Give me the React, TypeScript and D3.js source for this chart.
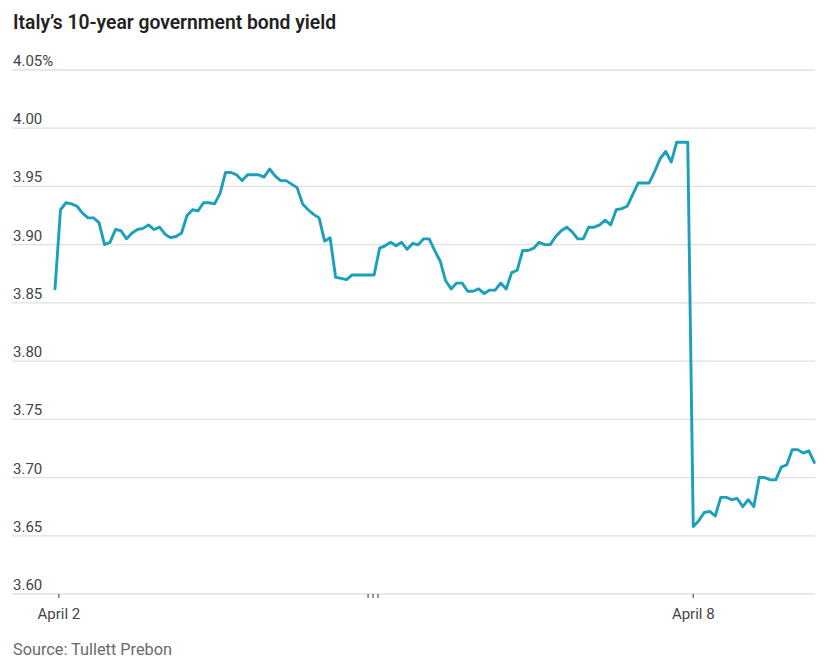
import React from "react";
import * as d3 from "d3";

const TITLE = "Italy\u2019s 10-year government bond yield";
const SOURCE = "Source: Tullett Prebon";

// yields (%) in sequence of observations
const yields: number[] = [
  3.862, 3.930, 3.936, 3.935, 3.933, 3.927, 3.923, 3.923, 3.919, 3.900,
  3.902, 3.913, 3.912, 3.905, 3.910, 3.913, 3.914, 3.917, 3.913, 3.915,
  3.909, 3.906, 3.907, 3.910, 3.925, 3.930, 3.929, 3.936, 3.936, 3.935,
  3.944, 3.962, 3.962, 3.960, 3.955, 3.960, 3.960, 3.960, 3.958, 3.965,
  3.959, 3.955, 3.955, 3.952, 3.949, 3.935, 3.930, 3.926, 3.923, 3.903,
  3.906, 3.872, 3.871, 3.870, 3.874, 3.874, 3.874, 3.874, 3.874, 3.897,
  3.899, 3.902, 3.899, 3.902, 3.896, 3.901, 3.900, 3.905, 3.905, 3.895,
  3.886, 3.869, 3.862, 3.867, 3.867, 3.860, 3.860, 3.862, 3.858, 3.861,
  3.861, 3.867, 3.862, 3.876, 3.878, 3.895, 3.895, 3.897, 3.902, 3.900,
  3.900, 3.907, 3.912, 3.915, 3.911, 3.905, 3.905, 3.915, 3.915, 3.917,
  3.921, 3.917, 3.930, 3.931, 3.933, 3.943, 3.953, 3.953, 3.953, 3.963,
  3.974, 3.980, 3.971, 3.988, 3.988, 3.988, 3.658, 3.663, 3.670, 3.671,
  3.667, 3.683, 3.683, 3.681, 3.682, 3.675, 3.681, 3.675, 3.700, 3.700,
  3.698, 3.698, 3.709, 3.711, 3.724, 3.724, 3.721, 3.723, 3.713,
];

const yTicks: number[] = [3.6, 3.65, 3.7, 3.75, 3.8, 3.85, 3.9, 3.95, 4.0, 4.05];

// x-axis ticks positioned in observation units
const xTickPos: number[] = [0.7, 56.9, 57.8, 58.7, 116];
const xTickLabels: string[] = ["April 2", "", "", "", "April 8"];

const W = 828;
const H = 668;
const FONT = "Roboto, 'Noto Sans', sans-serif";

export default function App() {
  const x = d3.scaleLinear().domain([0, yields.length - 1]).range([55, 814.3]);
  const y = d3.scaleLinear().domain([3.6, 4.05]).range([594, 70]);
  const line = d3
    .line<number>()
    .x((_, i) => x(i))
    .y((d) => y(d))
    .curve(d3.curveLinear);

  return (
    <svg
      width={W}
      height={H}
      style={{ position: "absolute", left: 0, top: 0, background: "#fff" }}
    >
      <text x={13} y={29} fontFamily={FONT} fontWeight={600} fontSize={19.3} fill="#222">
        {TITLE}
      </text>
      {yTicks.map((t) => (
        <g key={t}>
          <line x1={12} x2={815} y1={y(t)} y2={y(t)} stroke="#e0e0e0" strokeWidth={1.3} />
          <text x={13} y={y(t) - 4} fontFamily={FONT} fontSize={15} fill="#444">
            {t === 4.05 ? "4.05%" : d3.format(".2f")(t)}
          </text>
        </g>
      ))}
      {xTickPos.map((p, i) => (
        <g key={i}>
          <line x1={x(p)} x2={x(p)} y1={594} y2={598} stroke="#555" strokeWidth={1.2} />
          {xTickLabels[i] && (
            <text
              x={x(p)}
              y={619}
              textAnchor="middle"
              fontFamily={FONT}
              fontSize={15}
              fill="#444"
            >
              {xTickLabels[i]}
            </text>
          )}
        </g>
      ))}
      <path
        d={line(yields) || ""}
        fill="none"
        stroke="#1ba0bb"
        strokeWidth={2.9}
        strokeLinejoin="round"
        strokeLinecap="round"
      />
      <text x={13} y={655} fontFamily={FONT} fontSize={16.3} fill="#6a6a6a">
        {SOURCE}
      </text>
    </svg>
  );
}
